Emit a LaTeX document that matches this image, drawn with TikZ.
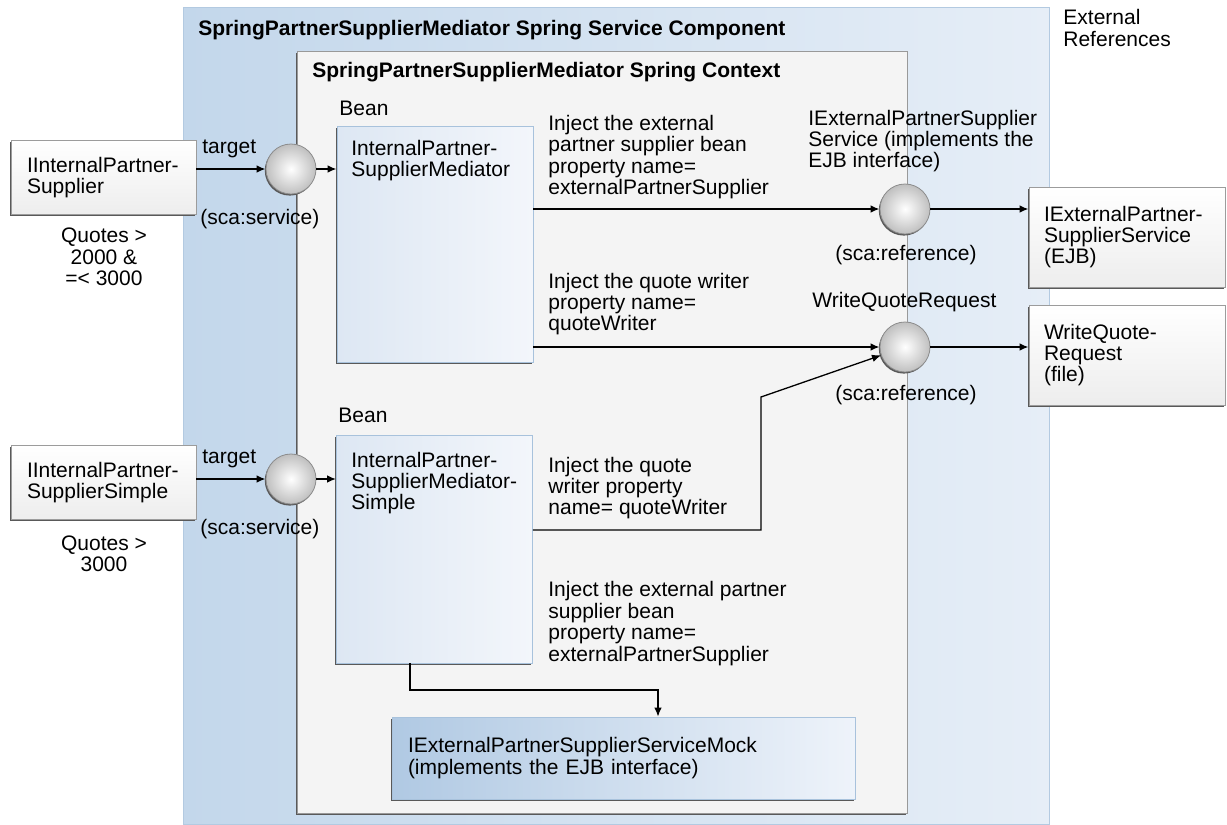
\documentclass[tikz,border=0pt]{standalone}
\usepackage{fontspec}
\setmainfont{Liberation Sans}
\usepackage{xcolor}
\usetikzlibrary{arrows.meta,shadows}
\definecolor{compblueL}{HTML}{C3D7EB}
\definecolor{compblueR}{HTML}{E6EEF7}
\definecolor{compedge}{HTML}{B3CAE1}
\definecolor{ctxfill}{HTML}{F4F4F4}
\definecolor{beanL}{HTML}{DDE7F3}
\definecolor{beanR}{HTML}{F3F6FB}
\definecolor{beanedge}{HTML}{A8C2DC}
\definecolor{mockL}{HTML}{B0C9E3}
\definecolor{mockR}{HTML}{EEF3FA}
\definecolor{boxedge}{HTML}{9C9C9C}

\begin{document}
\begin{tikzpicture}[
  x=0.5pt, y=-0.5pt,
  >={Latex[length=4.5pt,width=3.8pt]},
  every node/.style={font=\fontsize{10.5}{10.7}\selectfont, inner sep=0pt},
  edgesh/.style={drop shadow={shadow xshift=-0.6pt,shadow yshift=-0.8pt,fill=black!65,opacity=1}},
  comp/.style={rectangle, draw=compedge, left color=compblueL, right color=compblueR,
    minimum width=433pt, minimum height=408.5pt},
  ctx/.style={rectangle, draw=black!40, fill=ctxfill, edgesh,
    minimum width=305pt, minimum height=381pt},
  bean/.style={rectangle, draw=beanedge, left color=beanL, right color=beanR, edgesh,
    minimum width=98pt},
  mock/.style={rectangle, draw=beanedge, left color=mockL, right color=mockR, edgesh,
    align=left, text width=215.5pt, inner xsep=8pt, minimum height=41pt},
  srcbox/.style={rectangle, draw=boxedge, top color=white, bottom color=black!7, edgesh,
    align=left, text width=76.5pt, inner xsep=8pt, minimum height=37pt},
  extbox/.style={rectangle, draw=boxedge, top color=white, bottom color=black!7, edgesh,
    align=left, text width=83pt, inner xsep=7.5pt, minimum height=50pt},
  port/.style={circle, draw=black!45, inner color=white, outer color=black!25,
    minimum size=25pt, edgesh},
  lbl/.style={anchor=west, align=left},
  title/.style={anchor=west, font=\fontsize{10.5}{10.7}\selectfont\bfseries},
  flow/.style={->, line width=1pt},
  link/.style={->, line width=0.65pt}
]
  \useasboundingbox (0,0) rectangle (1227,825);

  % component and context
  \node[comp] (comp) at (616,415.5) {};
  \node[ctx] (ctx) at (602,432) {};
  \node[title] (comptitle) at (198,30) {SpringPartnerSupplierMediator Spring Service Component};
  \node[title] (ctxtitle) at (312,72) {SpringPartnerSupplierMediator Spring Context};
  \node[lbl] (extrefs) at (1063,28) {External\\References};

  % beans
  \node[lbl] (beanlbl1) at (339,108) {Bean};
  \node[bean, minimum height=118pt] (bean1) at (435,244) {};
  \node[lbl] (beantxt1) at (351,160.5) {InternalPartner-\\SupplierMediator};
  \node[lbl] (beanlbl2) at (338,415) {Bean};
  \node[bean, minimum height=114pt] (bean2) at (434.5,549) {};
  \node[lbl] (beantxt2) at (351,483) {InternalPartner-\\SupplierMediator-\\Simple};
  \node[mock] (mock) at (623.5,758) {IExternalPartnerSupplierServiceMock\\(implements the EJB interface)};

  % services
  \node[srcbox] (src1) at (103.5,177.5) {IInternalPartner-\\Supplier};
  \node[srcbox] (src2) at (103.5,482.5) {IInternalPartner-\\SupplierSimple};
  \node[align=center] (quotes1) at (104,257) {Quotes >\\2000 \&\\=< 3000};
  \node[align=center] (quotes2) at (104,554) {Quotes >\\3000};
  \foreach \i/\y in {1/169,2/479} {
    \node[port] (svc\i) at (291,\y) {};
    \node[lbl] (tgt\i) at (202,\y-20) {target};
    \node[lbl] (scasvc\i) at (200,\y+50) {(sca:service)};
  }

  % references
  \node[port] (ref1) at (905,209) {};
  \node[port] (ref2) at (905,347) {};
  \node[lbl] (refname1) at (808,141) {IExternalPartnerSupplier\\Service (implements the\\EJB interface)};
  \node (scaref1) at (906,255) {(sca:reference)};
  \node[lbl] (refname2) at (812,302) {WriteQuoteRequest};
  \node (scaref2) at (906,395) {(sca:reference)};
  \node[extbox] (ext1) at (1127,237) {IExternalPartner-\\SupplierService\\(EJB)};
  \node[extbox] (ext2) at (1127,355) {WriteQuote-\\Request\\(file)};

  \node[lbl] (inj1) at (548,157) {Inject the external\\partner supplier bean\\property name=\\externalPartnerSupplier};
  \node[lbl] (inj2) at (548,304) {Inject the quote writer\\property name=\\quoteWriter};
  \node[lbl] (inj3) at (548,488) {Inject the quote\\writer property\\name= quoteWriter};
  \node[lbl] (inj4) at (548,623.5) {Inject the external partner\\supplier bean\\property name=\\externalPartnerSupplier};

  % wiring
  \draw[flow] (svc1 -| src1.east) -- (svc1);
  \draw[flow] (svc1) -- (svc1 -| bean1.west);
  \draw[flow] (svc2 -| src2.east) -- (svc2);
  \draw[flow] (svc2) -- (svc2 -| bean2.west);
  \draw[flow] (ref1 -| bean1.east) -- (ref1);
  \draw[flow] (ref2 -| bean1.east) -- (ref2);
  \draw[flow] (ref1) -- (ref1 -| ext1.west);
  \draw[flow] (ref2) -- (ref2 -| ext2.west);
  \coordinate (qw) at (761,530);
  \coordinate (qwbend) at (761,397);
  \draw[link] (qw -| bean2.east) -- (qw) -- (qwbend) -- (ref2);
  \coordinate (mk1) at (410,690);
  \coordinate (mk2) at (658,690);
  \draw[link] (bean2.south -| mk1) -- (mk1) -- (mk2) -- (mk2 |- mock.north);
\end{tikzpicture}
\end{document}
